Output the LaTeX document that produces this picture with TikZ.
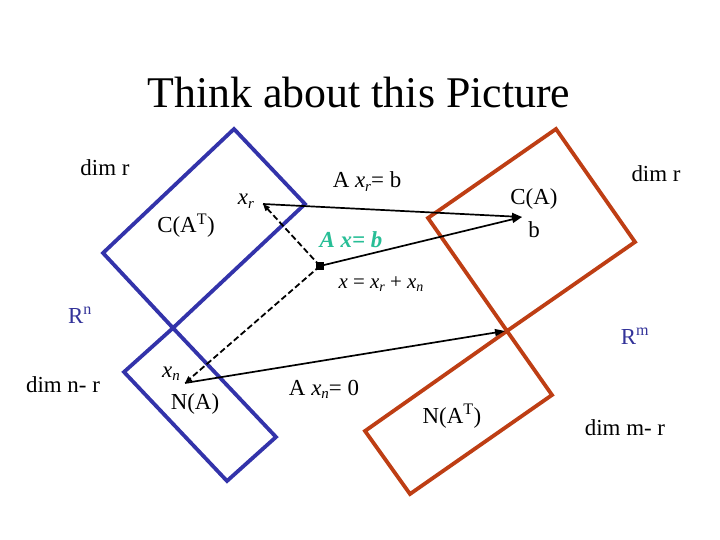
\documentclass[tikz,border=0pt]{standalone}
\usepackage{fontspec}
\setmainfont{Liberation Serif}
\usetikzlibrary{arrows.meta}
\definecolor{bluebox}{RGB}{51,51,170}
\definecolor{redbox}{RGB}{190,62,20}
\definecolor{tealtext}{RGB}{40,190,150}
\definecolor{rblue}{RGB}{51,51,153}
\newcommand{\ivar}[2]{\textit{#1}\raisebox{-0.35ex}{\fontsize{15}{15}\selectfont\textit{#2}}}
\newcommand{\svar}[2]{\textit{#1}\raisebox{-0.35ex}{\fontsize{14}{14}\selectfont\textit{#2}}}
\tikzset{
  lbl/.style={font=\fontsize{23}{27}\selectfont, anchor=base, inner sep=0pt},
  titlelbl/.style={font=\fontsize{44}{50}\selectfont, anchor=base, inner sep=0pt},
  smalllbl/.style={font=\fontsize{21}{24}\selectfont, anchor=base, inner sep=0pt},
  bluerect/.style={draw=bluebox, line width=3.8bp, line join=miter},
  redrect/.style={draw=redbox, line width=3.8bp, line join=miter},
  solidarrow/.style={draw=black, line width=1.7bp, -{Triangle[length=10bp,width=7bp]}},
  dasharrow/.style={draw=black, line width=1.8bp, dash pattern=on 6bp off 3bp, -{Triangle[length=7bp,width=5.5bp]}}
}
\begin{document}
\begin{tikzpicture}[x=1bp,y=-1bp]
\useasboundingbox (0,0) rectangle (720,540);
% rectangle corners
\coordinate (ct) at (234,129);
\coordinate (cr) at (305,204);
\coordinate (cb) at (173,328);
\coordinate (cl) at (103,253);
\coordinate (nt) at (173,328);
\coordinate (nr) at (276,437);
\coordinate (nb) at (227,481);
\coordinate (nl) at (124,372);
\coordinate (rt) at (556,129);
\coordinate (rr) at (635,242);
\coordinate (rb) at (507,331);
\coordinate (rl) at (428,218);
\coordinate (lt) at (507,331);
\coordinate (lr) at (552,395);
\coordinate (lb) at (410,494);
\coordinate (ll) at (365,431);
\draw[bluerect] (ct) -- (cr) -- (cb) -- (cl) -- cycle;
\draw[bluerect] (nt) -- (nr) -- (nb) -- (nl) -- cycle;
\draw[redrect] (rt) -- (rr) -- (rb) -- (rl) -- cycle;
\draw[redrect] (lt) -- (lr) -- (lb) -- (ll) -- cycle;
% points
\coordinate (xr) at (263,204);
\coordinate (xn) at (185,383);
\coordinate (bpt) at (522,217);
\coordinate (zero) at (505,331);
\node[fill=black, minimum size=8bp, inner sep=0pt] (xpt) at (320,266) {};
% connectors
\draw[solidarrow] (xr) -- (bpt);
\draw[solidarrow] (xpt.center) -- (bpt);
\draw[solidarrow] (xn) -- (zero);
\draw[dasharrow] (xpt.center) -- (xr);
\draw[dasharrow] (xpt.center) -- (xn);
% texts
\node[titlelbl] (title) at (359,108) {Think about this Picture};
\node[lbl] (dimrl) at (105,176) {dim r};
\node[lbl] (dimrr) at (656,182) {dim r};
\node[lbl] (cat) at (186,233) {C(A\textsuperscript{T})};
\node[lbl] (xrl) at (246,205) {\ivar{x}{r}};
\node[lbl] (axrb) at (367,188) {A \ivar{x}{r}= b};
\node[lbl, font=\fontsize{23}{27}\selectfont\bfseries\itshape, text=tealtext] (axb) at (351,248) {A x= b};
\node[smalllbl] (xsum) at (381,288) {\textit{x} = \svar{x}{r} + \svar{x}{n}};
\node[lbl] (ca) at (534,205) {C(A)};
\node[lbl] (bl) at (534,238) {b};
\node[lbl, text=rblue] (rn) at (80,323) {R\textsuperscript{n}};
\node[lbl, text=rblue] (rm) at (635,344) {R\textsuperscript{m}};
\node[lbl] (dimnr) at (63,392) {dim n- r};
\node[lbl] (xnl) at (171,377) {\ivar{x}{n}};
\node[lbl] (na) at (195,409) {N(A)};
\node[lbl] (axn) at (324,395) {A \ivar{x}{n}= 0};
\node[lbl] (nat) at (452,423) {N(A\textsuperscript{T})};
\node[lbl] (dimmr) at (625,435) {dim m- r};
\end{tikzpicture}
\end{document}
